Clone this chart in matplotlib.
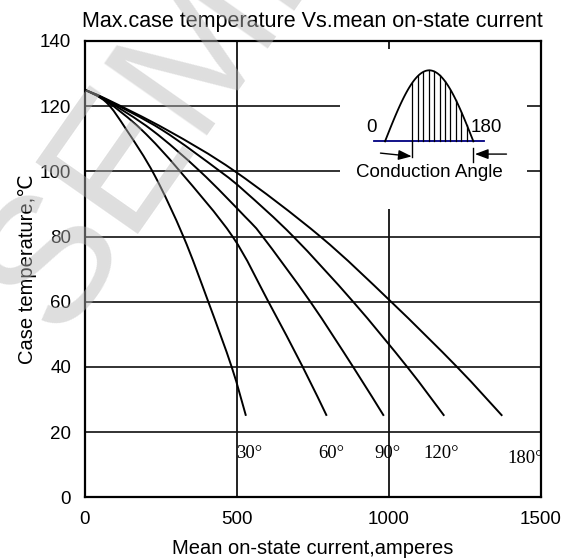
import matplotlib
matplotlib.use("Agg")
import matplotlib.pyplot as plt
import numpy as np
from matplotlib.patches import Rectangle, PathPatch
from matplotlib.path import Path

plt.rcParams['font.family'] = ['Liberation Sans', 'DejaVu Sans']

# ---- data ----
angles = ["30°", "60°", "90°", "120°", "180°"]
I30 = [0, 70, 137, 228, 324, 406, 483, 530]
T30 = [125, 121.2, 112.7, 99, 80, 60, 40, 25]
I60 = [0, 70, 187, 313, 486, 604, 717, 796]
T60 = [125, 121.6, 112.7, 100, 80, 60, 40, 25]
I90 = [0, 70, 220, 379, 527, 585, 742, 883, 984]
T90 = [125, 121.8, 112.7, 100, 86.1, 80, 60, 40, 25]
I120 = [0, 70, 254, 445, 527, 686, 883, 1061, 1183]
T120 = [125, 122.0, 112.7, 100, 93.8, 80, 60, 40, 25]
I180 = [0, 70, 270, 494, 775, 1008, 1225, 1374]
T180 = [125, 122.2, 112.7, 100, 80, 60, 40, 25]
curves_I = [I30, I60, I90, I120, I180]
curves_T = [T30, T60, T90, T120, T180]
label_x = [497, 767, 952, 1116, 1390]
label_y = [13.3, 13.3, 13.3, 13.3, 11.8]

xticks = [0, 500, 1000, 1500]
yticks = [0, 20, 40, 60, 80, 100, 120, 140]


def smooth_path(xs, ys):
    """Catmull-Rom curve through the read points, as cubic Bezier segments."""
    P = np.column_stack([xs, ys]).astype(float)
    P_ext = np.vstack([P[0], P, P[-1]])
    verts = [tuple(P[0])]
    codes = [Path.MOVETO]
    for i in range(len(P) - 1):
        p0, p1, p2, p3 = P_ext[i], P_ext[i + 1], P_ext[i + 2], P_ext[i + 3]
        c1 = p1 + (p2 - p0) / 6.0
        c2 = p2 - (p3 - p1) / 6.0
        verts += [tuple(c1), tuple(c2), tuple(p2)]
        codes += [Path.CURVE4] * 3
    return Path(verts, codes)


fig = plt.figure(figsize=(5.75, 5.6), dpi=100)
ax = fig.add_axes([0.1478, 0.112, 0.7922, 0.8148])
ax.set_xlim(0, 1500)
ax.set_ylim(0, 140)
ax.set_xticks(xticks)
ax.set_yticks(yticks)
ax.tick_params(length=0, pad=10, labelsize=13.5)
for s in ax.spines.values():
    s.set_linewidth(1.6)
    s.set_color('black')

# grid
for y in yticks[1:-1]:
    ax.axhline(y, color='#222222', lw=1.3, zorder=0.5)
for x in [500, 1000]:
    ax.axvline(x, color='#111111', lw=1.3, zorder=0.5)

# inset white box
ax.add_patch(Rectangle((840, 88.4), 615, 49.0, facecolor='white', edgecolor='none', zorder=1))

for I, T in zip(curves_I, curves_T):
    ax.add_patch(PathPatch(smooth_path(I, T), facecolor='none', edgecolor='black', lw=1.4, zorder=2))

for lab, x, y in zip(angles, label_x, label_y):
    ax.text(x, y, lab, family='Liberation Serif', fontsize=13.5, ha='left', va='center', zorder=3)

# inset waveform
base_y = 109.2
x0, x1 = 988, 1279
ph = np.linspace(0, np.pi, 100)
wx = x0 + (x1 - x0) * ph / np.pi
wy = base_y + 21.8 * np.sin(ph)
ax.plot([953, 1313], [base_y, base_y], color='#000080', lw=1.3, zorder=3)
ax.plot(wx, wy, color='black', lw=1.3, zorder=3)
for hx in np.linspace(1078, 1257, 11):
    hy = base_y + 21.8 * np.sin(np.pi * (hx - x0) / (x1 - x0))
    ax.plot([hx, hx], [base_y, hy], color='black', lw=0.9, zorder=3)
ax.plot([1078, 1078], [base_y, 104.4], color='black', lw=1.0, zorder=3)
ax.plot([1279, 1279], [107.2, 103.0], color='black', lw=1.0, zorder=3)
ax.annotate('', xy=(1076, 104.6), xytext=(973, 105.6),
            arrowprops=dict(arrowstyle='-|>,head_length=0.8,head_width=0.3', color='black', lw=1.0,
                            shrinkA=0, shrinkB=0), zorder=3)
ax.annotate('', xy=(1284, 105.3), xytext=(1388, 105.3),
            arrowprops=dict(arrowstyle='-|>,head_length=0.8,head_width=0.3', color='black', lw=1.0,
                            shrinkA=0, shrinkB=0), zorder=3)
ax.text(944, 113.6, '0', fontsize=13.5, ha='center', va='center', zorder=3)
ax.text(1323, 113.6, '180', fontsize=13.5, ha='center', va='center', zorder=3)
ax.text(1134, 99.5, 'Conduction Angle', fontsize=13.5, ha='center', va='center', zorder=3)

ax.set_title('Max.case temperature Vs.mean on-state current', fontsize=15.5, pad=10)
ax.set_xlabel('Mean on-state current,amperes', fontsize=14.5, labelpad=8)
ax.set_ylabel('Case temperature,℃', fontsize=14.5, labelpad=2)

# watermark
fig.text(0.102, 0.399, 'SEMI', rotation=55, rotation_mode='anchor', fontsize=130,
         color=(0.72, 0.72, 0.72), alpha=0.46, ha='left', va='baseline', zorder=10)

fig.savefig('out.png', dpi=100)
